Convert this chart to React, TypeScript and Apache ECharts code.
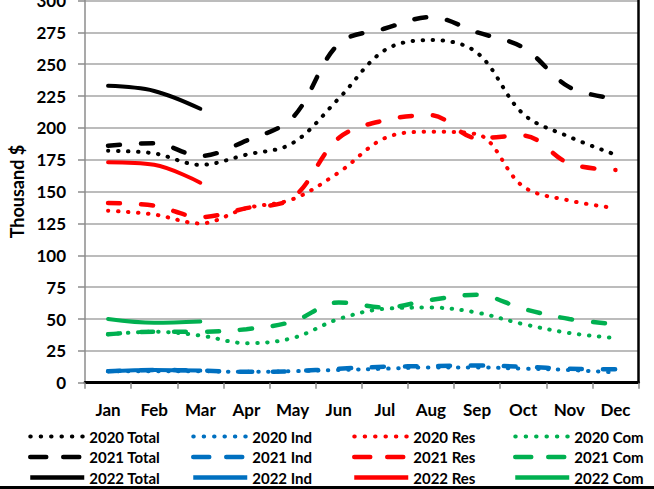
import React, { useEffect, useRef } from 'react';
import * as echarts from 'echarts';

const months = ['Jan', 'Feb', 'Mar', 'Apr', 'May', 'Jun', 'Jul', 'Aug', 'Sep', 'Oct', 'Nov', 'Dec'];

const total2020 = [182, 180, 171, 179, 188, 223, 261, 269, 259, 211, 193, 179];
const total2021 = [186, 188, 178, 190, 208, 266, 278, 287, 275, 263, 232, 223];
const total2022 = [233, 229, 215];
const ind2020 = [9, 9, 9, 8.5, 9, 10, 11, 12, 12, 11, 10, 8];
const ind2021 = [9, 10, 9.5, 8.5, 9, 11, 12.5, 13, 13.5, 12.5, 11, 10.5];
const ind2022 = [9, 10, 9.5];
const res2020 = [135, 132, 125, 137, 144, 165, 192, 197, 195, 154, 143, 137];
const res2021 = [141, 139, 130, 137, 145, 192, 206, 210, 192, 194, 172, 167];
const res2022 = [173, 171, 157];
const com2020 = [38, 40, 37, 31, 35, 50, 58, 59, 55, 46, 39, 35];
const com2021 = [38, 40, 40, 42, 48, 63, 59, 65, 69, 58, 50, 46];
const com2022 = [50, 47, 48];

const FONT = 'Lato';
const BLACK = '#000000';
const BLUE = '#0070C0';
const RED = '#FF0000';
const GREEN = '#00B050';

const dotted = { type: [0.5, 9.5], cap: 'round', width: 4 };
const dashed = { type: [12, 21], cap: 'round', width: 4.5 };
const solid = { type: 'solid', cap: 'round', width: 4 };

const legDotted = { type: [0.5, 9.9], cap: 'round', width: 4 };
const legDashed = { type: [16, 17], cap: 'round', width: 4.5 };
const legSolid = { type: 'solid', cap: 'butt', width: 4.5 };

function mk(name: string, data: number[], color: string, style: any) {
  return {
    type: 'line',
    name,
    data,
    smooth: 0.35,
    symbol: 'none',
    showSymbol: false,
    lineStyle: { color, ...style },
    itemStyle: { color },
  };
}

export default function App() {
  const ref = useRef<HTMLDivElement>(null);
  useEffect(() => {
    if (!ref.current) return;
    const chart = echarts.init(ref.current, null, { renderer: 'svg' });
    const series = [
      mk('2020 Total', total2020, BLACK, dotted),
      mk('2021 Total', total2021, BLACK, dashed),
      mk('2022 Total', total2022, BLACK, solid),
      mk('2020 Ind', ind2020, BLUE, dotted),
      mk('2021 Ind', ind2021, BLUE, dashed),
      mk('2022 Ind', ind2022, BLUE, solid),
      mk('2020 Res', res2020, RED, dotted),
      mk('2021 Res', res2021, RED, dashed),
      mk('2022 Res', res2022, RED, solid),
      mk('2020 Com', com2020, GREEN, dotted),
      mk('2021 Com', com2021, GREEN, dashed),
      mk('2022 Com', com2022, GREEN, solid),
    ];
    const cols = [
      { left: 28, kind: 'Total' },
      { left: 191, kind: 'Ind' },
      { left: 352, kind: 'Res' },
      { left: 513, kind: 'Com' },
    ];
    const hidden = { opacity: 0, color: 'rgba(0,0,0,0)', borderWidth: 0 };
    const legends = cols.map((c) => ({
      orient: 'vertical',
      left: c.left,
      top: 428.5,
      padding: 0,
      itemGap: 4.5,
      itemWidth: 54,
      itemHeight: 14,
      selectedMode: false,
      lineStyle: { width: 4 },
      itemStyle: hidden,
      textStyle: { color: '#000', fontWeight: 'bold', fontSize: 15, fontFamily: FONT, lineHeight: 16 },
      data: [
        { name: '2020 ' + c.kind, lineStyle: legDotted, itemStyle: hidden },
        { name: '2021 ' + c.kind, lineStyle: legDashed, itemStyle: hidden },
        { name: '2022 ' + c.kind, lineStyle: legSolid, itemStyle: hidden },
      ],
    }));
    const axisGray = '#8c8c8c';
    chart.setOption({
      animation: false,
      backgroundColor: '#ffffff',
      grid: { left: 85, right: 15.5, top: 0.5, bottom: 106.3, containLabel: false, outerBoundsMode: 'none' },
      legend: legends,
      xAxis: [
        {
          type: 'category',
          data: months,
          boundaryGap: true,
          axisLine: { lineStyle: { color: axisGray, width: 1.5 } },
          axisTick: { show: true, interval: 0, length: 6, lineStyle: { color: axisGray, width: 1.5 } },
          axisLabel: { interval: 0, color: '#000', fontWeight: 'bold', fontSize: 17, fontFamily: FONT, margin: 18 },
          splitLine: { show: false },
        },
        {
          type: 'category',
          position: 'top',
          data: months,
          axisLine: { lineStyle: { color: '#000', width: 3 } },
          axisTick: { show: false },
          axisLabel: { show: false },
          splitLine: { show: false },
        },
      ],
      yAxis: [
        {
          type: 'value',
          min: 0,
          max: 300,
          interval: 25,
          axisLine: { show: true, lineStyle: { color: axisGray, width: 1.5 } },
          axisTick: { show: true, length: 7, lineStyle: { color: axisGray, width: 1.5 } },
          splitLine: { show: true, lineStyle: { color: '#a6a6a6', width: 1.5 } },
          axisLabel: { color: '#000', fontWeight: 'bold', fontSize: 17, fontFamily: FONT, margin: 19 },
          name: 'Thousand $',
          nameLocation: 'middle',
          nameRotate: 90,
          nameGap: 59,
          nameTextStyle: { color: '#000', fontWeight: 'bold', fontSize: 18, fontFamily: FONT },
        },
        {
          type: 'value',
          position: 'right',
          min: 0,
          max: 300,
          interval: 25,
          axisLine: { show: true, lineStyle: { color: '#000', width: 2.5 } },
          axisTick: { show: false },
          axisLabel: { show: false },
          splitLine: { show: false },
        },
      ],
      graphic: [
        { type: 'rect', left: 0, top: 486, shape: { width: 654, height: 3 }, style: { fill: '#000' } },
      ],
      series,
    });
    return () => chart.dispose();
  }, []);
  return <div ref={ref} style={{ position: 'fixed', left: 0, top: 0, width: 654, height: 489, background: '#fff' }} />;
}
